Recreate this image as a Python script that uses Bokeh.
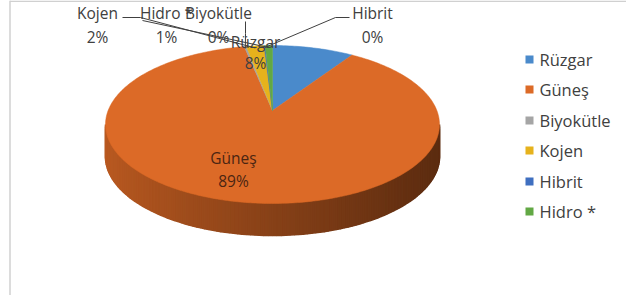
import numpy as np
from bokeh.plotting import figure
from bokeh.models import Range1d
from bokeh.embed import file_html
from bokeh.resources import INLINE
from bokeh.core.properties import value

# ---- data ----
categories = ["Rüzgar", "Güneş", "Biyokütle", "Kojen", "Hibrit", "Hidro *"]
values = [7.9, 89.4, 0.2, 1.7, 0.1, 0.7]
colors = ["#4a8acb", "#dc6a27", "#a5a5a5", "#e6b21c", "#3f6fc0", "#62a844"]

# ---- layout (pixel space of the picture) ----
W, H = 626, 295
cx, cy, rx, ry = 280.0, 132.0, 167.0, 79.0   # top-face ellipse
ax, ay = 280.0, 118.0                         # apex of the slices
depth = 32.0
FONT = "Open Sans"
LABEL_SIZE = "15.5px"
LEGEND_SIZE = "16.5px"

# label placement: (x, y of name line, y of pct line, leader polyline start points)
label_pos = {
    "Rüzgar": (263, 49, 70, None),
    "Güneş": (241, 165, 188, None),
    "Biyokütle": (226, 20, 44, [(253, 29), (253, 41)]),
    "Kojen": (105, 20, 44, [(130, 25), (148, 25)]),
    "Hibrit": (380, 20, 44, [(357, 25), (343, 25)]),
    "Hidro *": (174, 20, 44, [(150, 28)]),
}

p = figure(width=W, height=H, output_backend="svg", toolbar_location=None,
           x_range=Range1d(8, 8 + W), y_range=Range1d(8 + H, 8),
           min_border=0, outline_line_color=None)
p.axis.visible = False
p.grid.visible = False
p.background_fill_color = "white"
p.border_fill_color = "white"

# chart frame
p.line([17.5, 17.5], [8, 8 + H], line_color="#d0d0d0", line_width=1.5)
p.line([17.5, 8 + W], [8.7, 8.7], line_color="#d0d0d0", line_width=1.5)

vals = np.array(values, dtype=float)
frac = vals / vals.sum()
ends = np.cumsum(frac) * 2 * np.pi
starts = ends - frac * 2 * np.pi


def rim(t):
    return cx + rx * np.sin(t), cy - ry * np.cos(t)


def hex_scale(h, f):
    h = h.lstrip("#")
    r, g, b = (int(h[i:i + 2], 16) for i in (0, 2, 4))
    return "#%02x%02x%02x" % tuple(int(max(0, min(255, c * f))) for c in (r, g, b))


def slice_at(t):
    t = t % (2 * np.pi)
    for i in range(len(vals)):
        if starts[i] <= t < ends[i]:
            return i
    return len(vals) - 1


# ---- side wall (front half) ----
ts = np.linspace(np.pi / 2, 3 * np.pi / 2, 121)
bx, by = rim(ts)
p.patch(list(bx) + list(bx[::-1]), list(by) + list((by + depth)[::-1]),
        fill_color=hex_scale(colors[1], 0.62), line_color=None)
sxs, sys, scs = [], [], []
for a, b in zip(ts[:-1], ts[1:]):
    x0, y0 = rim(a)
    x1, y1 = rim(b)
    sxs.append([x0, x1, x1, x0])
    sys.append([y0, y1, y1 + depth, y0 + depth])
    s = (np.sin((a + b) / 2) + 1) / 2  # 0 left .. 1 right
    f = 0.84 - 0.42 * s ** 0.9
    scs.append(hex_scale(colors[slice_at((a + b) / 2)], f))
p.patches(sxs, sys, fill_color=scs, line_color=scs, line_width=1.6)

# ---- top face ----
txs, tys = [], []
for s0, s1 in zip(starts, ends):
    n = max(2, int((s1 - s0) / (2 * np.pi) * 400))
    t = np.linspace(s0, s1, n)
    x, y = rim(t)
    txs.append([ax] + list(x))
    tys.append([ay] + list(y))
p.patches(txs, tys, fill_color=colors, line_color=colors, line_width=0.5)

# ---- leader lines ----
for i, cat in enumerate(categories):
    lp = label_pos[cat]
    if lp[3] is None:
        continue
    mid = (starts[i] + ends[i]) / 2
    mx, my = rim(mid)
    pts = lp[3] + [(mx, my + 2)]
    p.line([q[0] for q in pts], [q[1] for q in pts], line_color="#404040", line_width=1)

# ---- data labels ----
for i, cat in enumerate(categories):
    x, yn, yp, _ = label_pos[cat]
    inside = cat in ("Güneş",)
    col = "#4a2512" if inside else "#404040"
    pct = "%d%%" % round(frac[i] * 100)
    p.text([x], [yn], text=[cat], text_align="center", text_baseline="middle",
           text_font=value(FONT), text_font_size=LABEL_SIZE, text_color=col)
    p.text([x], [yp], text=[pct], text_align="center", text_baseline="middle",
           text_font=value(FONT), text_font_size=LABEL_SIZE, text_color=col)

# ---- legend ----
leg_y = [67, 97, 128, 158, 189, 219]
p.rect([537] * len(categories), leg_y, width=8, height=8, width_units="screen",
       height_units="screen", fill_color=colors, line_color=None)
p.text([547] * len(categories), leg_y, text=categories, text_align="left",
       text_baseline="middle", text_font=value(FONT), text_font_size=LEGEND_SIZE,
       text_color="#404040")

open("out.html", "w").write(file_html(p, INLINE))
